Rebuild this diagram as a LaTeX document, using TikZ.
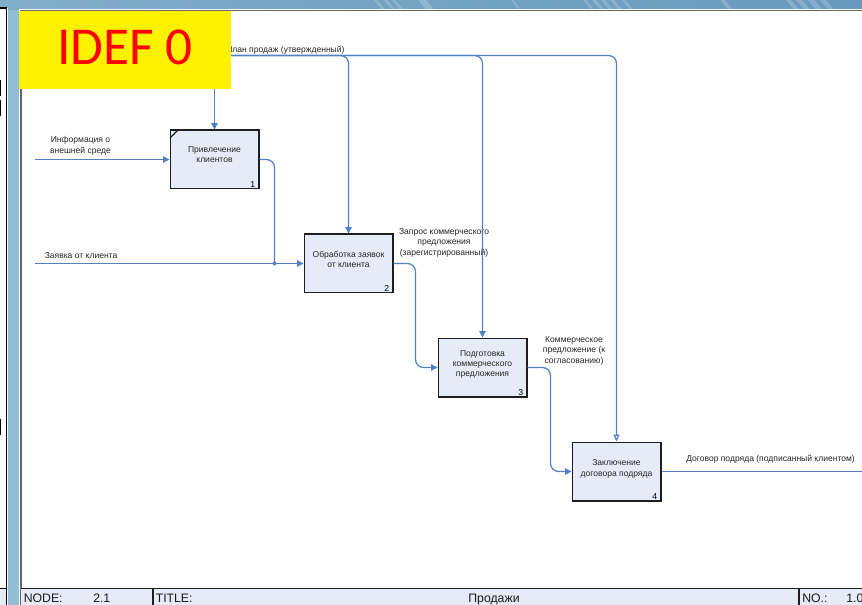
\documentclass[tikz,border=0pt]{standalone}
\usepackage{fontspec}
\setmainfont{Liberation Sans}
\newfontfamily\carlitofont{Carlito}
\usetikzlibrary{arrows.meta}
\definecolor{bluebg}{RGB}{146,189,214}
\definecolor{barL}{RGB}{128,174,200}
\definecolor{barR}{RGB}{104,153,190}
\definecolor{boxfill}{RGB}{229,236,247}
\definecolor{arrowblue}{RGB}{82,128,200}
\definecolor{boxline}{RGB}{30,30,30}
\newcommand{\boxlines}[2]{\raisebox{#1}[0pt][0pt]{\begin{tabular}{@{}c@{}}#2\end{tabular}}}
\tikzset{
  x=0.75pt,y=-0.75pt,
  proc/.style={draw=boxline,line width=1pt,fill=boxfill,minimum width=66.5pt,minimum height=44pt,inner sep=0pt,align=center,font=\fontsize{6.4}{7.8}\selectfont,text=black!85},
  lbl/.style={inner sep=0pt,align=center,font=\fontsize{6.4}{7.9}\selectfont,text=black!85},
  foot/.style={inner sep=0pt,anchor=base west,font=\fontsize{9.2}{11}\selectfont,text=black!90},
  num/.style={inner sep=0pt,font=\fontsize{6.5}{8}\selectfont},
  flow/.style={draw=arrowblue,line width=0.9pt,rounded corners=6pt},
  tip/.style={-{Triangle[length=4.8pt,width=4.8pt]}},
  hollowtip/.style={-{Triangle[open,length=5.2pt,width=4.6pt]}},
}
\begin{document}
\begin{tikzpicture}
\useasboundingbox (0,0) rectangle (862,605);
% background
\fill[bluebg] (0,0) rectangle (862,605);
\shade[left color=barL,right color=barR] (0,0) rectangle (862,9.5);
\foreach \a/\w in {374/3,384/3,392/3,418/8,511/2,583/3,592/4,601/4,610/4,622/3,720/5,786/5,796/6,808/6,820/6}{
  \fill[white,opacity=.2] (\a,0) -- (\a+\w,0) -- (\a+\w+8,9.5) -- (\a+8,9.5) -- cycle;
}
% left strip
\fill[white] (0,8) rectangle (8,605);
\draw[black,line width=.8pt] (0,8) -- (6.5,8) -- (6.5,605);
\fill[boxfill] (0,588.5) rectangle (6,605);
\draw[black,line width=.7pt] (0,588.5) -- (6.5,588.5);
\fill[black] (0,80) rectangle (1,96);
\fill[black] (0,100) rectangle (1,116);
\fill[black] (0,419) rectangle (1,435);
% page
\fill[white] (19,9) rectangle (862,605);
\draw[black!60,line width=1.1pt] (21,605) -- (21,10.5) -- (862,10.5);
% footer
\fill[boxfill] (21,588.5) rectangle (862,605);
\draw[boxline,line width=.9pt] (21,588.5) -- (862,588.5);
\draw[boxline,line width=.9pt] (153,588.5) -- (153,605);
\draw[boxline,line width=.9pt] (799,588.5) -- (799,605);
\node[foot] (fnode) at (23.5,602) {NODE:};
\node[foot] (fnum) at (93,602) {2.1};
\node[foot] (ftitle) at (155.5,602) {TITLE:};
\node[foot,anchor=base] (fname) at (494,602) {Продажи};
\node[foot] (fno) at (802,602) {NO.:};
\node[foot] (fnov) at (846,602) {1.0};
% boxes
\node[proc] (b1) at (214.5,159.5) {\boxlines{1.7pt}{Привлечение\\клиентов}};
\node[proc] (b2) at (348.5,263.5) {\boxlines{.8pt}{Обработка заявок\\от клиента}};
\node[proc] (b3) at (482.5,367.5) {\boxlines{.8pt}{Подготовка\\коммерческого\\предложения}};
\node[proc] (b4) at (616.5,471.5) {\boxlines{.4pt}{Заключение\\договора подряда}};
\node[num,anchor=south east] (n1) at ([xshift=-3pt,yshift=1.5pt]b1.south east) {1};
\node[num,anchor=south east] (n2) at ([xshift=-3pt,yshift=1.5pt]b2.south east) {2};
\node[num,anchor=south east] (n3) at ([xshift=-3pt,yshift=1.5pt]b3.south east) {3};
\node[num,anchor=south east] (n4) at ([xshift=-3pt,yshift=1.5pt]b4.south east) {4};
\draw[boxline,line width=.8pt] (170,138) -- (178,130);
% free ends
\coordinate (planstart) at (214.5,55.5);
\coordinate (infostart) at (35,159.5);
\coordinate (reqstart) at (35,263.5);
\coordinate (outend) at (862,471.5);
\coordinate (junction) at (274.5,263.5);
% labels
\node[lbl,anchor=west] (lplan) at (226,50) {План продаж (утвержденный)};
\node[lbl] (linfo) at (80.5,146) {Информация о\\внешней среде};
\node[lbl,anchor=west] (lreq) at (44.5,256) {Заявка от клиента};
\node[lbl] (lq) at (444,242.5) {Запрос коммерческого\\предложения\\(зарегистрированный)};
\node[lbl] (lk) at (574,350.5) {Коммерческое\\предложение (к\\согласованию)};
\node[lbl,anchor=west] (ld) at (686,459) {Договор подряда (подписанный клиентом)};
% arrows
\draw[flow,tip] (planstart) -- (b1.north);
\draw[flow,tip] (planstart) -- (348.5,55.5) -- (b2.north);
\draw[flow,tip] (planstart) -- (482.5,55.5) -- (b3.north);
\draw[flow,hollowtip] (planstart) -- (616.5,55.5) -- (b4.north);
\draw[flow,tip] (infostart) -- (b1.west);
\draw[flow,tip] (reqstart) -- (b2.west);
\draw[flow] (b1.east) -- (274.5,159.5) -- (junction);
\fill[arrowblue] (junction) circle (2);
\draw[flow,tip] (b2.east) -- (415.5,263.5) -- (415.5,367.5) -- (b3.west);
\draw[flow,tip] (b3.east) -- (550.5,367.5) -- (550.5,471.5) -- (b4.west);
\draw[flow] (b4.east) -- (outend);
% yellow banner
\node[fill=yellow,text=red,minimum width=159pt,minimum height=58.5pt,inner sep=0pt,text height=22.5pt,text depth=0pt,font=\carlitofont\fontsize{40}{40}\selectfont] (banner) at (125,50) {IDEF 0};
\end{tikzpicture}
\end{document}
